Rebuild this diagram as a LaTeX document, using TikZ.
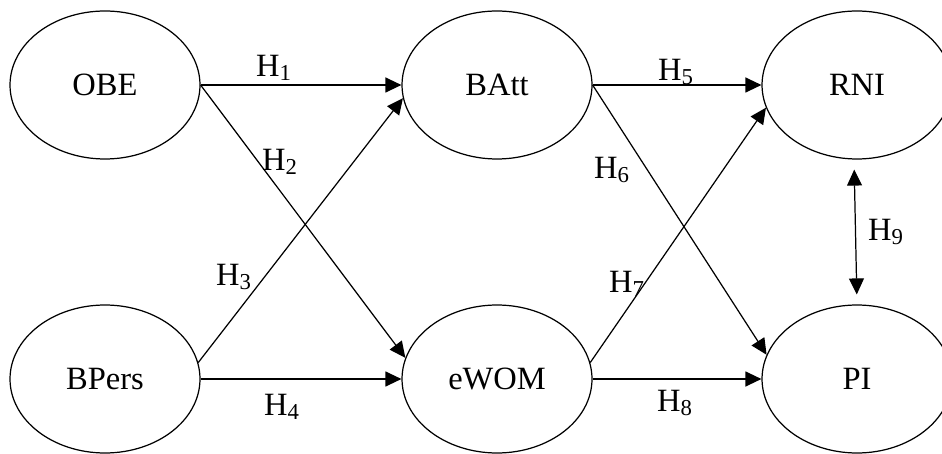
\documentclass[tikz,border=0pt]{standalone}
\usepackage{fontspec}
\setmainfont{Liberation Serif}
\usepackage{tikz}
\usetikzlibrary{arrows.meta}
\usetikzlibrary{shapes.geometric}

\begin{document}
\begin{tikzpicture}[
		x=0.02cm, y=0.02cm,
		construct/.style={draw, ellipse, line width=0.7pt, inner sep=0pt,
			minimum width=3.8cm, minimum height=2.96cm,
			font=\fontsize{18.5}{22}\selectfont},
		link/.style={line width=0.7pt, -{Triangle[length=0.32cm, width=0.3cm]}},
		hlabel/.style={anchor=center, font=\fontsize{18.5}{22}\selectfont}
	]
	\clip (0,0) rectangle (942,453);
	
	% constructs
	\node[construct] (OBE) at (105,368) {OBE};
	\node[construct] (BAtt) at (497,368) {BAtt};
	\node[construct] (RNI) at (857,368) {RNI};
	\node[construct] (BPers) at (105,74) {BPers};
	\node[construct] (eWOM) at (497,74) {eWOM};
	\node[construct] (PI) at (857,74) {PI};
	
	% hypotheses
	\draw[link] (OBE.east) -- (BAtt.west);
	\draw[link] (OBE.east) -- (eWOM.167);
	\draw[link] (BPers.10) -- (BAtt.188);
	\draw[link] (BPers.east) -- (eWOM.west);
	\draw[link] (BAtt.east) -- (RNI.west);
	\draw[link] (BAtt.east) -- (PI.165);
	\draw[link] (eWOM.10) -- (RNI.194);
	\draw[link] (eWOM.east) -- (PI.west);
	\draw[link, {Triangle[length=0.32cm, width=0.3cm]}-{Triangle[length=0.32cm, width=0.3cm]},
		shorten <=0.2cm, shorten >=0.2cm]
		([xshift=-0.06cm]RNI.south) -- (PI.north);
	
	\node[hlabel] (h1) at (274,385) {H\textsubscript{1}};
	\node[hlabel] (h2) at (280,291) {H\textsubscript{2}};
	\node[hlabel] (h3) at (234,176) {H\textsubscript{3}};
	\node[hlabel] (h4) at (282,46) {H\textsubscript{4}};
	\node[hlabel] (h5) at (676,381) {H\textsubscript{5}};
	\node[hlabel] (h6) at (612,283) {H\textsubscript{6}};
	\node[hlabel] (h7) at (627,169) {H\textsubscript{7}};
	\node[hlabel] (h8) at (675,50) {H\textsubscript{8}};
	\node[hlabel] (h9) at (886,221) {H\textsubscript{9}};
\end{tikzpicture}
\end{document}
